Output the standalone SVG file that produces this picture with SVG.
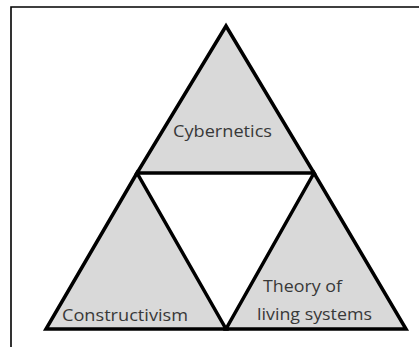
<svg xmlns="http://www.w3.org/2000/svg" width="419" height="347" viewBox="0 0 419 347">
<style>
.tri{fill:#d9d9d9;stroke:#000;stroke-width:3.5;stroke-linejoin:miter}
.lbl{font-family:"Open Sans","Liberation Sans",sans-serif;font-size:17px;fill:#383838}
</style>
<rect width="419" height="347" fill="#fff"/>
<path d="M11,347 V7 H419" fill="none" stroke="#000" stroke-width="1.6"/>
<g id="cybernetics">
<polygon class="tri" points="226,26 137,173 314,173"/>
<text class="lbl" x="173" y="137" textLength="99" lengthAdjust="spacingAndGlyphs">Cybernetics</text>
</g>
<g id="constructivism">
<polygon class="tri" points="137,173 46,329 226,329"/>
<text class="lbl" x="62" y="321" textLength="126" lengthAdjust="spacingAndGlyphs">Constructivism</text>
</g>
<g id="living-systems">
<polygon class="tri" points="314,173 226,329 406,329"/>
<text class="lbl" x="263" y="292" textLength="79" lengthAdjust="spacingAndGlyphs">Theory of</text>
<text class="lbl" x="257" y="320" textLength="115" lengthAdjust="spacingAndGlyphs">living systems</text>
</g>
</svg>
